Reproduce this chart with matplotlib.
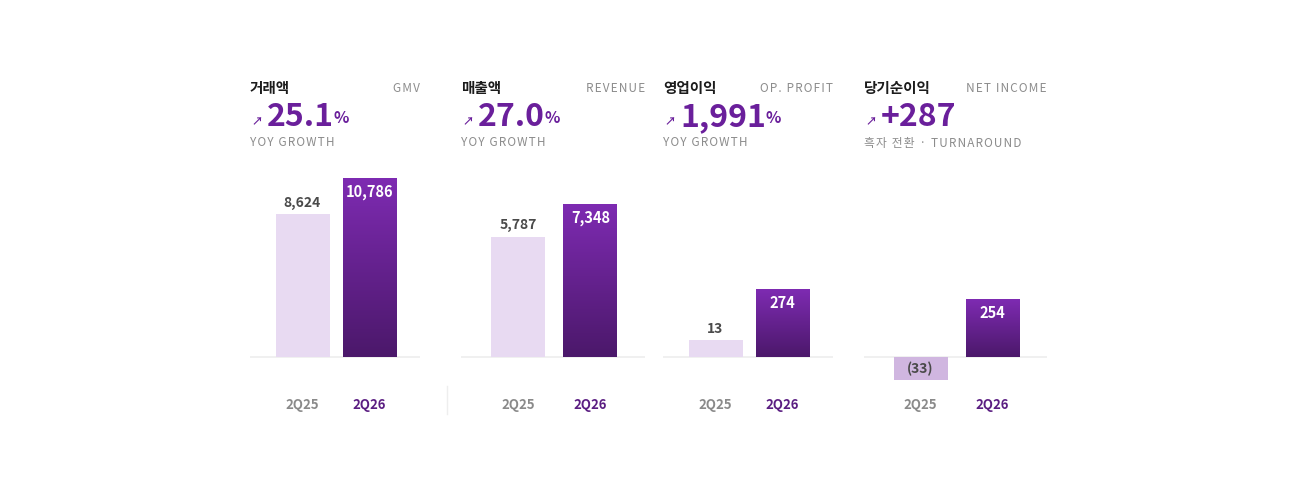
import numpy as np
import matplotlib
matplotlib.use("Agg")
import matplotlib.pyplot as plt
from matplotlib.colors import LinearSegmentedColormap

plt.rcParams['font.family'] = ['Noto Sans CJK KR', 'DejaVu Sans']

# data
titles_kr = ['거래액', '매출액', '영업이익', '당기순이익']
titles_en = ['GMV', 'REVENUE', 'OP. PROFIT', 'NET INCOME']
headline = ['25.1', '27.0', '1,991', '+287']
headline_unit = ['%', '%', '%', '']
subline = ['YOY GROWTH', 'YOY GROWTH', 'YOY GROWTH', '흑자 전환 · TURNAROUND']
periods = ['2Q25', '2Q26']
prev_vals = [8624, 5787, 13, -33]
curr_vals = [10786, 7348, 274, 254]
prev_labels = ['8,624', '5,787', '13', '(33)']
curr_labels = ['10,786', '7,348', '274', '254']

W, H = 1300, 500
fig = plt.figure(figsize=(13, 5), dpi=100)
fig.patch.set_facecolor('white')

# panel layout in pixels: (left, right, top pixel of the tallest bar)
panels = [(250, 420, 178), (461, 645, 204), (663, 833, 289), (864, 1047, 299)]
base_y = 357
ax_top, ax_bot = 170, 390

purple = '#6a1f9b'
grad = LinearSegmentedColormap.from_list('g', ['#4b186a', '#7e2bb2'])


def fx(px):
    return px / W


def fy(py):
    return 1 - py / H


def ssqrt(y):
    return np.sign(y) * np.abs(y) ** 0.45


def ssq(y):
    return np.sign(y) * np.abs(y) ** (1 / 0.45)


def spaced(s):
    # rough letter spacing with hair spaces
    return '\u200a'.join(s)


renderer = fig.canvas.get_renderer()

for i in range(4):
    left, right, top_px = panels[i]
    ax = fig.add_axes([fx(left), fy(ax_bot), (right - left) / W, (ax_bot - ax_top) / H])
    ax.set_facecolor('none')
    for s in ax.spines.values():
        s.set_visible(False)

    vmax = curr_vals[i]
    if i >= 2:
        ax.set_yscale('function', functions=(ssqrt, ssq))
        tmax = ssqrt(vmax)
        ppu = (base_y - top_px) / tmax
        ax.set_ylim(ssq(-(ax_bot - base_y) / ppu), ssq((base_y - ax_top) / ppu))
    else:
        ppu = (base_y - top_px) / vmax
        ax.set_ylim(-(ax_bot - base_y) / ppu, (base_y - ax_top) / ppu)

    w = right - left
    c1 = (302.5 - 250) / 170
    c2 = (369.5 - 250) / 170
    ax.set_xlim(0, 1)
    xs = [c1, c2]
    bw = 54 / w

    ax.axhline(0, color='#eeeeee', lw=1.2, zorder=0)

    pcol = '#e8daf2' if prev_vals[i] >= 0 else '#d0b6e0'
    ax.bar(xs[0], prev_vals[i], width=bw, color=pcol, zorder=2)
    b2 = ax.bar(xs[1], curr_vals[i], width=bw, color='none', zorder=2)[0]

    # gradient fill of the current bar
    to_ax = ax.transAxes.inverted()
    y_top_ax = to_ax.transform(ax.transData.transform((0, curr_vals[i])))[1]
    y_0_ax = to_ax.transform(ax.transData.transform((0, 0)))[1]
    g = np.linspace(0, 1, 256).reshape(-1, 1)
    im = ax.imshow(g, cmap=grad, origin='lower', aspect='auto',
                   extent=[xs[1] - bw / 2, xs[1] + bw / 2, y_0_ax, y_top_ax],
                   transform=ax.transAxes, zorder=2)
    im.set_clip_path(b2)
    ax.set_xlim(0, 1)

    # value labels
    if prev_vals[i] >= 0:
        ax.annotate(prev_labels[i], (xs[0], prev_vals[i]), xytext=(0, 8),
                    textcoords='offset points', ha='center', va='center',
                    fontsize=10, fontweight='bold', color='#4a4a4a')
    else:
        # middle of the bar on screen
        y_mid_disp = (ax.transData.transform((0, prev_vals[i]))[1] +
                      ax.transData.transform((0, 0))[1]) / 2
        ym = ax.transData.inverted().transform((0, y_mid_disp))[1]
        ax.annotate(prev_labels[i], (xs[0], ym), ha='center', va='center',
                    fontsize=10, fontweight='bold', color='#4a4a4a')
    ax.annotate(curr_labels[i], (xs[1], curr_vals[i]), xytext=(0, -10),
                textcoords='offset points', ha='center', va='center',
                fontsize=10.5, fontweight='bold', color='white', zorder=5)

    ax.set_yticks([])
    ax.set_xticks(xs)
    ax.set_xticklabels(periods, fontsize=9.5, fontweight='bold')
    ax.tick_params(axis='x', length=0, pad=5.5)
    lbls = ax.get_xticklabels()
    lbls[0].set_color('#8a8a8a')
    lbls[1].set_color('#5b1e82')

    # header
    fig.text(fx(left), fy(88), titles_kr[i], fontsize=10.5, fontweight='bold',
             color='#1c1c1c', va='center', ha='left')
    fig.text(fx(right), fy(89), spaced(titles_en[i]), fontsize=8.5, color='#8c8c8c',
             va='center', ha='right')
    fig.text(fx(left + 1), fy(122), '↗', fontsize=8, fontweight='bold',
             color=purple, va='center', ha='left')
    num = fig.text(fx(left + 17), fy(117), headline[i], fontsize=23, fontweight='bold',
                   color=purple, va='center', ha='left')
    if headline_unit[i]:
        bb = num.get_window_extent(renderer=renderer)
        fig.text(bb.x1 / W, fy(118), headline_unit[i], fontsize=11.5,
                 fontweight='bold', color=purple, va='center', ha='left')
    fig.text(fx(left), fy(143), spaced(subline[i]), fontsize=8.5, color='#8c8c8c',
             va='center', ha='left')

# faint divider
fig.add_artist(plt.Line2D([fx(447), fx(447)], [fy(386), fy(414)], color='#eeeeee', lw=1))

fig.savefig('out.png', dpi=100, facecolor='white')
